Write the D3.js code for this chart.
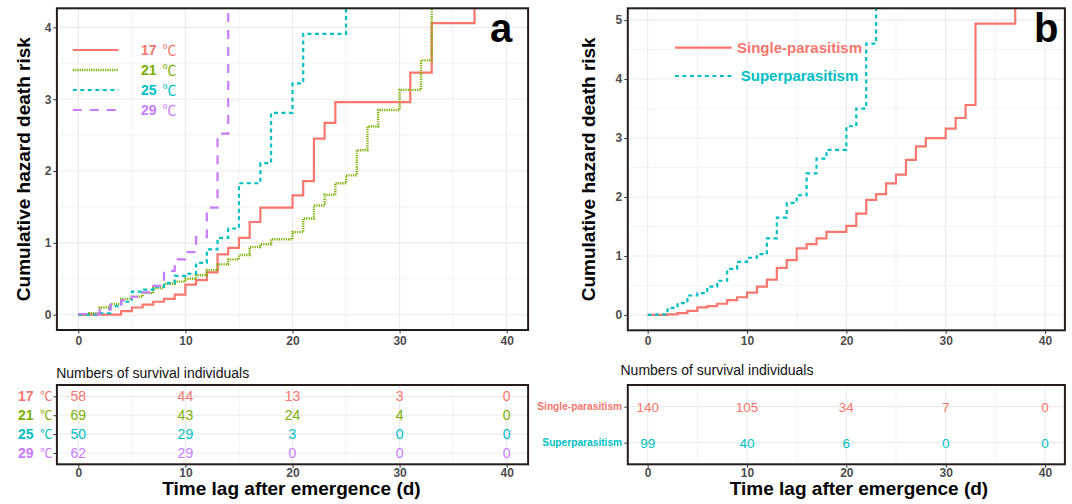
<!DOCTYPE html>
<html>
<head>
<meta charset="utf-8">
<script src="https://cdn.jsdelivr.net/npm/d3@7"></script>
<style>
  body { margin: 0; background: #fff; }
  svg { display: block; }
</style>
</head>
<body>
<svg id="chart" width="1072" height="504"></svg>
<script>
// ---- Panel a: cumulative hazard by rearing temperature ----
const temps = ["17", "21", "25", "29"];
const tempColors = ["#F8766D", "#7CAE00", "#00BFC4", "#C77CFF"];

const days17 = [0,4,5,6,7,8,9,10,11,12,13,14,15,16,17,20,21,22,23,24,31,33,37];
const haz17  = [0,0.05,0.10,0.14,0.18,0.22,0.28,0.42,0.48,0.59,0.84,0.93,1.07,1.29,1.49,1.66,1.86,2.45,2.67,2.96,3.37,4.06,5.06];

const days21 = [0,1,2,3,4,5,6,7,8,9,10,11,12,13,14,15,16,17,18,20,21,22,23,24,25,26,27,28,30,32,33];
const haz21  = [0,0.02,0.10,0.15,0.22,0.25,0.30,0.37,0.43,0.46,0.50,0.55,0.62,0.70,0.77,0.83,0.94,0.98,1.05,1.15,1.34,1.52,1.67,1.83,1.94,2.29,2.62,2.85,3.13,3.54,4.70];

const days25 = [0,2,3,4,5,6,7,8,9,10,11,12,13,14,15,17,18,20,21,25];
const haz25  = [0,0.02,0.12,0.18,0.32,0.35,0.39,0.44,0.54,0.57,0.72,0.91,1.07,1.20,1.83,2.11,2.81,3.22,3.91,4.91];

const days29 = [0,2,3,4,5,6,7,8,9,10,11,12,13,14];
const haz29  = [0.01,0.07,0.14,0.20,0.25,0.31,0.40,0.61,0.77,0.87,1.08,1.49,2.52,4.60];

// numbers at risk at the tick days
const tickDays = [0, 10, 20, 30, 40];
const atRisk17 = [58, 44, 13, 3, 0];
const atRisk21 = [69, 43, 24, 4, 0];
const atRisk25 = [50, 29, 3, 0, 0];
const atRisk29 = [62, 29, 0, 0, 0];

// ---- Panel b: single- vs superparasitism ----
const groups = ["Single-parasitism", "Superparasitism"];
const groupColors = ["#F8766D", "#00BFC4"];

const daysSingle = [0,2,3,4,5,6,7,8,9,10,11,12,13,14,15,16,17,18,20,21,22,23,24,25,26,27,28,30,31,32,33,37];
const hazSingle  = [0,0.01,0.03,0.07,0.13,0.15,0.19,0.25,0.30,0.38,0.48,0.60,0.80,0.93,1.13,1.20,1.30,1.41,1.51,1.72,1.95,2.05,2.23,2.38,2.63,2.86,3.00,3.16,3.34,3.56,4.94,5.94];

const daysSuper = [0,1,2,3,4,5,6,7,8,9,10,11,12,13,14,15,16,17,18,20,21,22,23];
const hazSuper  = [0,0.01,0.12,0.20,0.33,0.37,0.48,0.58,0.78,0.90,0.97,1.03,1.30,1.65,1.90,2.03,2.40,2.65,2.80,3.20,3.50,4.60,6.00];

const atRiskSingle = [140, 105, 34, 7, 0];
const atRiskSuper  = [99, 40, 6, 0, 0];

// ---- shared styling ----
const FONT = '"Liberation Sans", Arial, Helvetica, sans-serif';
const CJK = '"Noto Sans CJK SC", "DejaVu Sans", sans-serif';
const GRID = "#EBEBEB";
const FRAME = "#231C1A";
const TICK_TXT = "#4D4D4D";

const svg = d3.select("#chart");
svg.append("rect").attr("width", 1072).attr("height", 504).attr("fill", "#fff");

const zip = (xs, ys) => xs.map((d, i) => [d, ys[i]]);

function gridAndFrame(g, x, y, xMajor, xMinor, yMajor, yMinor) {
  const [x0, x1] = x.range();
  const [y0, y1] = y.range();
  g.append("g").selectAll("line").data(xMinor).join("line")
    .attr("x1", d => x(d)).attr("x2", d => x(d)).attr("y1", y0).attr("y2", y1)
    .attr("stroke", GRID).attr("stroke-width", 0.6);
  g.append("g").selectAll("line").data(yMinor).join("line")
    .attr("y1", d => y(d)).attr("y2", d => y(d)).attr("x1", x0).attr("x2", x1)
    .attr("stroke", GRID).attr("stroke-width", 0.6);
  g.append("g").selectAll("line").data(xMajor).join("line")
    .attr("x1", d => x(d)).attr("x2", d => x(d)).attr("y1", y0).attr("y2", y1)
    .attr("stroke", GRID).attr("stroke-width", 1.1);
  g.append("g").selectAll("line").data(yMajor).join("line")
    .attr("y1", d => y(d)).attr("y2", d => y(d)).attr("x1", x0).attr("x2", x1)
    .attr("stroke", GRID).attr("stroke-width", 1.1);
}

function border(g, x, y) {
  const [x0, x1] = x.range();
  const [y0, y1] = y.range();
  g.append("rect")
    .attr("x", x0).attr("y", Math.min(y0, y1))
    .attr("width", x1 - x0).attr("height", Math.abs(y0 - y1))
    .attr("fill", "none").attr("stroke", FRAME).attr("stroke-width", 2);
}

function styleAxis(ax) {
  ax.select(".domain").remove();
  ax.selectAll(".tick line").attr("stroke", "#333").attr("stroke-width", 1);
  ax.selectAll(".tick text")
    .attr("fill", TICK_TXT).attr("font-family", FONT)
    .attr("font-weight", "bold").attr("font-size", 12);
}

function hazardPanel(opts) {
  const { x, y, series, yMajor, yMinor, clipId, yTitleX } = opts;
  const g = svg.append("g");
  gridAndFrame(g, x, y, tickDays, [5, 15, 25, 35], yMajor, yMinor);

  const [x0, x1] = x.range();
  const [yb, yt] = y.range();
  svg.append("clipPath").attr("id", clipId).append("rect")
    .attr("x", x0).attr("y", yt).attr("width", x1 - x0).attr("height", yb - yt);

  const line = d3.line().x(d => x(d[0])).y(d => y(d[1])).curve(d3.curveStepAfter);
  const lines = g.append("g").attr("clip-path", `url(#${clipId})`);
  series.forEach(s => {
    lines.append("path")
      .attr("d", line(s.points))
      .attr("fill", "none")
      .attr("stroke", s.color)
      .attr("stroke-width", s.width)
      .attr("stroke-dasharray", s.dash)
      .attr("stroke-linecap", "butt")
      .attr("stroke-linejoin", "miter");
  });

  border(g, x, y);

  const ax = g.append("g").attr("transform", `translate(${x0},0)`)
    .call(d3.axisLeft(y).tickValues(yMajor).tickSize(3.5).tickPadding(2).tickFormat(d3.format("d")));
  styleAxis(ax);
  const bx = g.append("g").attr("transform", `translate(0,${yb})`)
    .call(d3.axisBottom(x).tickValues(tickDays).tickSize(3.5).tickPadding(2.5));
  styleAxis(bx);

  g.append("text")
    .attr("transform", `translate(${yTitleX},${(yb + yt) / 2}) rotate(-90)`)
    .attr("text-anchor", "middle")
    .attr("font-family", FONT).attr("font-weight", "bold").attr("font-size", 19)
    .attr("fill", "#000")
    .text("Cumulative hazard death risk");
  return g;
}

function riskTable(opts) {
  const { x, rows, labels, colors, values, titleX, titleY, axisTitleX } = opts;
  const rowY = d3.scalePoint().domain(rows).range([385, 464.3]).padding(0.6);
  const g = svg.append("g");
  const [x0, x1] = x.range();

  gridAndFrame(g, x, d3.scaleLinear().range([464.3, 385]), tickDays, [5, 15, 25, 35], [], []);
  g.append("g").selectAll("line").data(rows).join("line")
    .attr("x1", x0).attr("x2", x1)
    .attr("y1", d => rowY(d)).attr("y2", d => rowY(d))
    .attr("stroke", GRID).attr("stroke-width", 1.1);

  rows.forEach((r, i) => {
    g.append("g").selectAll("text").data(values[i]).join("text")
      .attr("x", (d, j) => x(tickDays[j]))
      .attr("y", rowY(r) + 5)
      .attr("text-anchor", "middle")
      .attr("font-family", FONT).attr("font-size", opts.valueSize)
      .attr("fill", colors[i])
      .text(d => d);
  });

  g.append("rect").attr("x", x0).attr("y", 385).attr("width", x1 - x0).attr("height", 79.3)
    .attr("fill", "none").attr("stroke", FRAME).attr("stroke-width", 2);

  const ax = g.append("g").attr("transform", `translate(${x0},0)`)
    .call(d3.axisLeft(rowY).tickSize(3.5).tickFormat(() => ""));
  styleAxis(ax);
  const bx = g.append("g").attr("transform", `translate(0,464.3)`)
    .call(d3.axisBottom(x).tickValues(tickDays).tickSize(3.5).tickPadding(0.5));
  styleAxis(bx);

  labels(g, rowY);

  g.append("text").attr("x", titleX).attr("y", titleY)
    .attr("font-family", FONT).attr("font-size", 14).attr("fill", "#111")
    .text("Numbers of survival individuals");

  g.append("text").attr("x", axisTitleX).attr("y", 495)
    .attr("text-anchor", "middle")
    .attr("font-family", FONT).attr("font-weight", "bold").attr("font-size", 19)
    .attr("fill", "#000")
    .text("Time lag after emergence (d)");
}

// ================= Panel a =================
const xA = d3.scaleLinear().domain([-2, 42]).range([56.9, 528.1]);
const yA = d3.scaleLinear().domain([-0.213, 4.265]).range([330, 8.3]);

const tempSeries = [
  { points: zip(days17, haz17), color: tempColors[0], width: 2.2, dash: null },
  { points: zip(days21, haz21), color: tempColors[1], width: 2.4, dash: "1.2 1.1" },
  { points: zip(days25, haz25), color: tempColors[2], width: 2.2, dash: "4 3.5" },
  { points: zip(days29, haz29), color: tempColors[3], width: 2.2, dash: "9 8" }
];

hazardPanel({
  x: xA, y: yA, series: tempSeries,
  yMajor: [0, 1, 2, 3, 4], yMinor: [0.5, 1.5, 2.5, 3.5],
  clipId: "clipA", yTitleX: 29.5
});

// legend a
const legA = svg.append("g");
const legRowsA = d3.scalePoint().domain(temps).range([50, 110]);
temps.forEach((t, i) => {
  const yy = legRowsA(t);
  legA.append("line").attr("x1", 72.8).attr("x2", 118.4).attr("y1", yy).attr("y2", yy)
    .attr("stroke", tempSeries[i].color).attr("stroke-width", tempSeries[i].width)
    .attr("stroke-dasharray", tempSeries[i].dash);
  legA.append("text").attr("x", 141).attr("y", yy + 5)
    .attr("font-family", FONT).attr("font-weight", "bold").attr("font-size", 14)
    .attr("fill", tempColors[i]).text(t);
  legA.append("text").attr("x", 162.5).attr("y", yy + 5)
    .attr("font-family", CJK).attr("font-size", 14)
    .attr("fill", tempColors[i]).text("℃");
});

svg.append("text").attr("x", 490).attr("y", 41.7)
  .attr("font-family", FONT).attr("font-weight", "bold").attr("font-size", 40)
  .attr("fill", "#000").text("a");

// table a
riskTable({
  x: xA, rows: temps, colors: tempColors,
  values: [atRisk17, atRisk21, atRisk25, atRisk29],
  valueSize: 14,
  titleX: 56.2, titleY: 378, axisTitleX: 291.5,
  labels: (g, rowY) => {
    temps.forEach((t, i) => {
      g.append("text").attr("x", 33.5).attr("y", rowY(t) + 5).attr("text-anchor", "end")
        .attr("font-family", FONT).attr("font-weight", "bold").attr("font-size", 14)
        .attr("fill", tempColors[i]).text(t);
      g.append("text").attr("x", 40).attr("y", rowY(t) + 4.6)
        .attr("font-family", CJK).attr("font-size", 12.5)
        .attr("fill", tempColors[i]).text("℃");
    });
  }
});

// ================= Panel b =================
const xB = d3.scaleLinear().domain([-2, 42]).range([627.8, 1064.9]);
const yB = d3.scaleLinear().domain([-0.26, 5.2]).range([330.3, 8.3]);

const groupSeries = [
  { points: zip(daysSingle, hazSingle), color: groupColors[0], width: 2.2, dash: null },
  { points: zip(daysSuper, hazSuper), color: groupColors[1], width: 2.2, dash: "4 3.5" }
];

hazardPanel({
  x: xB, y: yB, series: groupSeries,
  yMajor: [0, 1, 2, 3, 4, 5], yMinor: [0.5, 1.5, 2.5, 3.5, 4.5],
  clipId: "clipB", yTitleX: 595
});

const legB = svg.append("g");
const legRowsB = d3.scalePoint().domain(groups).range([47.7, 76]);
groups.forEach((grp, i) => {
  const yy = legRowsB(grp);
  legB.append("line").attr("x1", 674.9).attr("x2", 731.7).attr("y1", yy).attr("y2", yy)
    .attr("stroke", groupSeries[i].color).attr("stroke-width", groupSeries[i].width)
    .attr("stroke-dasharray", groupSeries[i].dash);
  legB.append("text").attr("x", 799.5).attr("y", yy + 5.4).attr("text-anchor", "middle")
    .attr("font-family", FONT).attr("font-weight", "bold").attr("font-size", 15)
    .attr("fill", groupColors[i]).text(grp);
});

svg.append("text").attr("x", 1034).attr("y", 41.7)
  .attr("font-family", FONT).attr("font-weight", "bold").attr("font-size", 40)
  .attr("fill", "#000").text("b");

riskTable({
  x: xB, rows: groups, colors: groupColors,
  values: [atRiskSingle, atRiskSuper],
  valueSize: 13.5,
  titleX: 620.5, titleY: 375, axisTitleX: 859,
  labels: (g, rowY) => {
    groups.forEach((grp, i) => {
      g.append("text").attr("x", 622.2).attr("y", rowY(grp) + 3.6).attr("text-anchor", "end")
        .attr("font-family", FONT).attr("font-weight", "bold").attr("font-size", 10.2)
        .attr("fill", groupColors[i]).text(grp);
    });
  }
});
</script>
</body>
</html>
